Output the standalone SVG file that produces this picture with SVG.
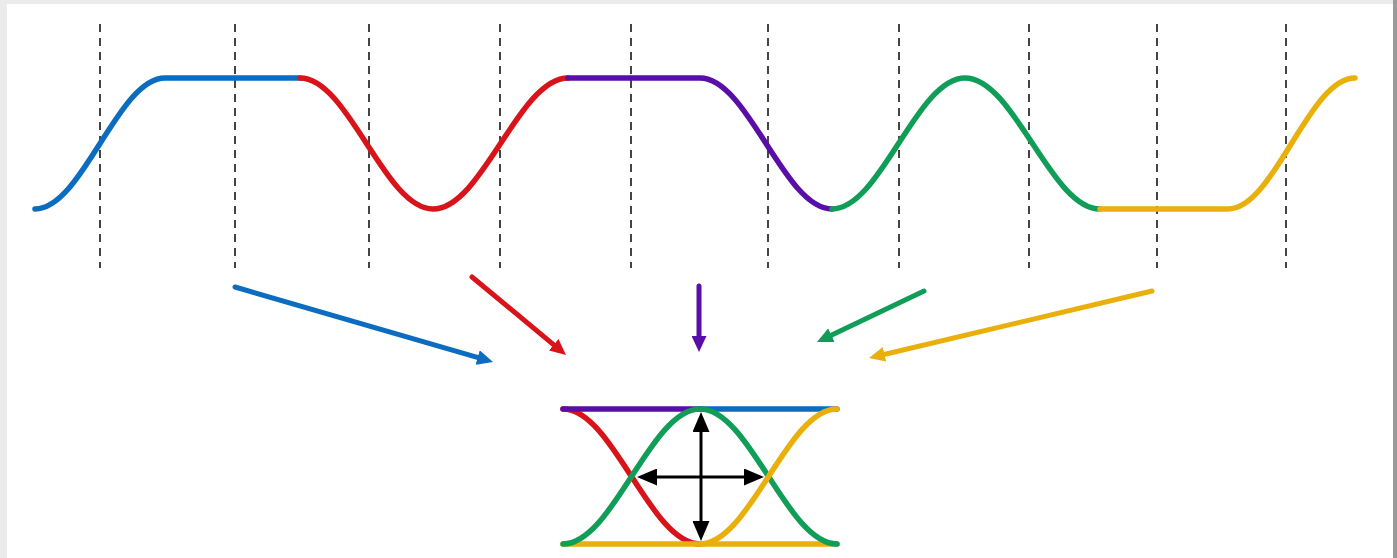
<svg xmlns="http://www.w3.org/2000/svg" width="1397" height="558" viewBox="0 0 1397 558">
  <style>
    .grid { stroke: #444; stroke-width: 2; stroke-dasharray: 8 6; fill: none; }
    .wave { fill: none; stroke-width: 5.5; stroke-linecap: round; stroke-linejoin: round; }
    .arr { fill: none; stroke-width: 5; stroke-linecap: round; }
    .dbl { fill: none; stroke: #000; stroke-width: 3; }
    .blue { stroke: #0b6cc0; }
    .red { stroke: #d8141a; }
    .purple { stroke: #5a0ea8; }
    .green { stroke: #0f9d58; }
    .yellow { stroke: #e9b00c; }
  </style>
  <defs>
    <marker id="mBlue" markerUnits="userSpaceOnUse" markerWidth="16" markerHeight="15" refX="6" refY="7.5" orient="auto"><path d="M0,0 L16,7.5 L0,15 z" fill="#0b6cc0"/></marker>
    <marker id="mRed" markerUnits="userSpaceOnUse" markerWidth="16" markerHeight="15" refX="6" refY="7.5" orient="auto"><path d="M0,0 L16,7.5 L0,15 z" fill="#d8141a"/></marker>
    <marker id="mPurple" markerUnits="userSpaceOnUse" markerWidth="16" markerHeight="15" refX="6" refY="7.5" orient="auto"><path d="M0,0 L16,7.5 L0,15 z" fill="#5a0ea8"/></marker>
    <marker id="mGreen" markerUnits="userSpaceOnUse" markerWidth="16" markerHeight="15" refX="6" refY="7.5" orient="auto"><path d="M0,0 L16,7.5 L0,15 z" fill="#0f9d58"/></marker>
    <marker id="mYellow" markerUnits="userSpaceOnUse" markerWidth="16" markerHeight="15" refX="6" refY="7.5" orient="auto"><path d="M0,0 L16,7.5 L0,15 z" fill="#e9b00c"/></marker>
    <marker id="mBlack" markerUnits="userSpaceOnUse" markerWidth="20" markerHeight="17" refX="5" refY="8.5" orient="auto-start-reverse"><path d="M0,0 L20,8.5 L0,17 z" fill="#000"/></marker>
  </defs>

  <rect x="0" y="0" width="1397" height="558" fill="#ebebeb"/>
  <rect x="1393" y="0" width="4" height="558" fill="#9a9a9a"/>
  <rect x="7" y="4" width="1386" height="554" fill="#ffffff"/>

  <g id="grid">
    <line class="grid" x1="100" y1="24" x2="100" y2="268"/>
    <line class="grid" x1="235" y1="24" x2="235" y2="268"/>
    <line class="grid" x1="369" y1="24" x2="369" y2="268"/>
    <line class="grid" x1="500" y1="24" x2="500" y2="268"/>
    <line class="grid" x1="631" y1="24" x2="631" y2="268"/>
    <line class="grid" x1="768" y1="24" x2="768" y2="268"/>
    <line class="grid" x1="899" y1="24" x2="899" y2="268"/>
    <line class="grid" x1="1029" y1="24" x2="1029" y2="268"/>
    <line class="grid" x1="1157" y1="24" x2="1157" y2="268"/>
    <line class="grid" x1="1286" y1="24" x2="1286" y2="268"/>
  </g>

  <g id="waveform">
    <path class="wave blue" d="M35,209 C82.3,209 117.7,78 165,78 L300,78"/>
    <path class="wave red" d="M300,78 C348.4,78 384.6,209 433,209 C482.1,209 518.9,78 568,78"/>
    <path class="wave purple" d="M568,78 L700,78 C748,78 784,209 832,209"/>
    <path class="wave green" d="M832,209 C880.4,209 916.6,78 965,78 C1014.1,78 1050.9,209 1100,209"/>
    <path class="wave yellow" d="M1100,209 L1228,209 C1274.2,209 1308.8,78 1355,78"/>
  </g>

  <g id="connectors">
    <line class="arr blue" x1="235" y1="287" x2="483.4" y2="359.2" marker-end="url(#mBlue)"/>
    <line class="arr red" x1="472" y1="277" x2="558.3" y2="348.6" marker-end="url(#mRed)"/>
    <line class="arr purple" x1="699" y1="286" x2="699" y2="342" marker-end="url(#mPurple)"/>
    <line class="arr green" x1="924" y1="291" x2="826" y2="337.7" marker-end="url(#mGreen)"/>
    <line class="arr yellow" x1="1152" y1="291" x2="878.7" y2="355.7" marker-end="url(#mYellow)"/>
  </g>

  <g id="eye-diagram">
    <path class="wave red" d="M563,409 C612.9,409 650.1,544 700,544"/>
    <path class="wave purple" d="M563,409 L700,409"/>
    <path class="wave blue" d="M700,409 L837,409"/>
    <path class="wave yellow" d="M563,544 L837,544"/>
    <path class="wave green" d="M563,544 C612.9,544 650.1,409 700,409 C749.9,409 787.1,544 837,544"/>
    <path class="wave yellow" d="M700,544 C749.9,544 787.1,409 837,409"/>
  </g>

  <g id="eye-opening">
    <line class="dbl" x1="701" y1="427" x2="701" y2="526" marker-start="url(#mBlack)" marker-end="url(#mBlack)"/>
    <line class="dbl" x1="652" y1="477" x2="749" y2="477" marker-start="url(#mBlack)" marker-end="url(#mBlack)"/>
  </g>
</svg>
